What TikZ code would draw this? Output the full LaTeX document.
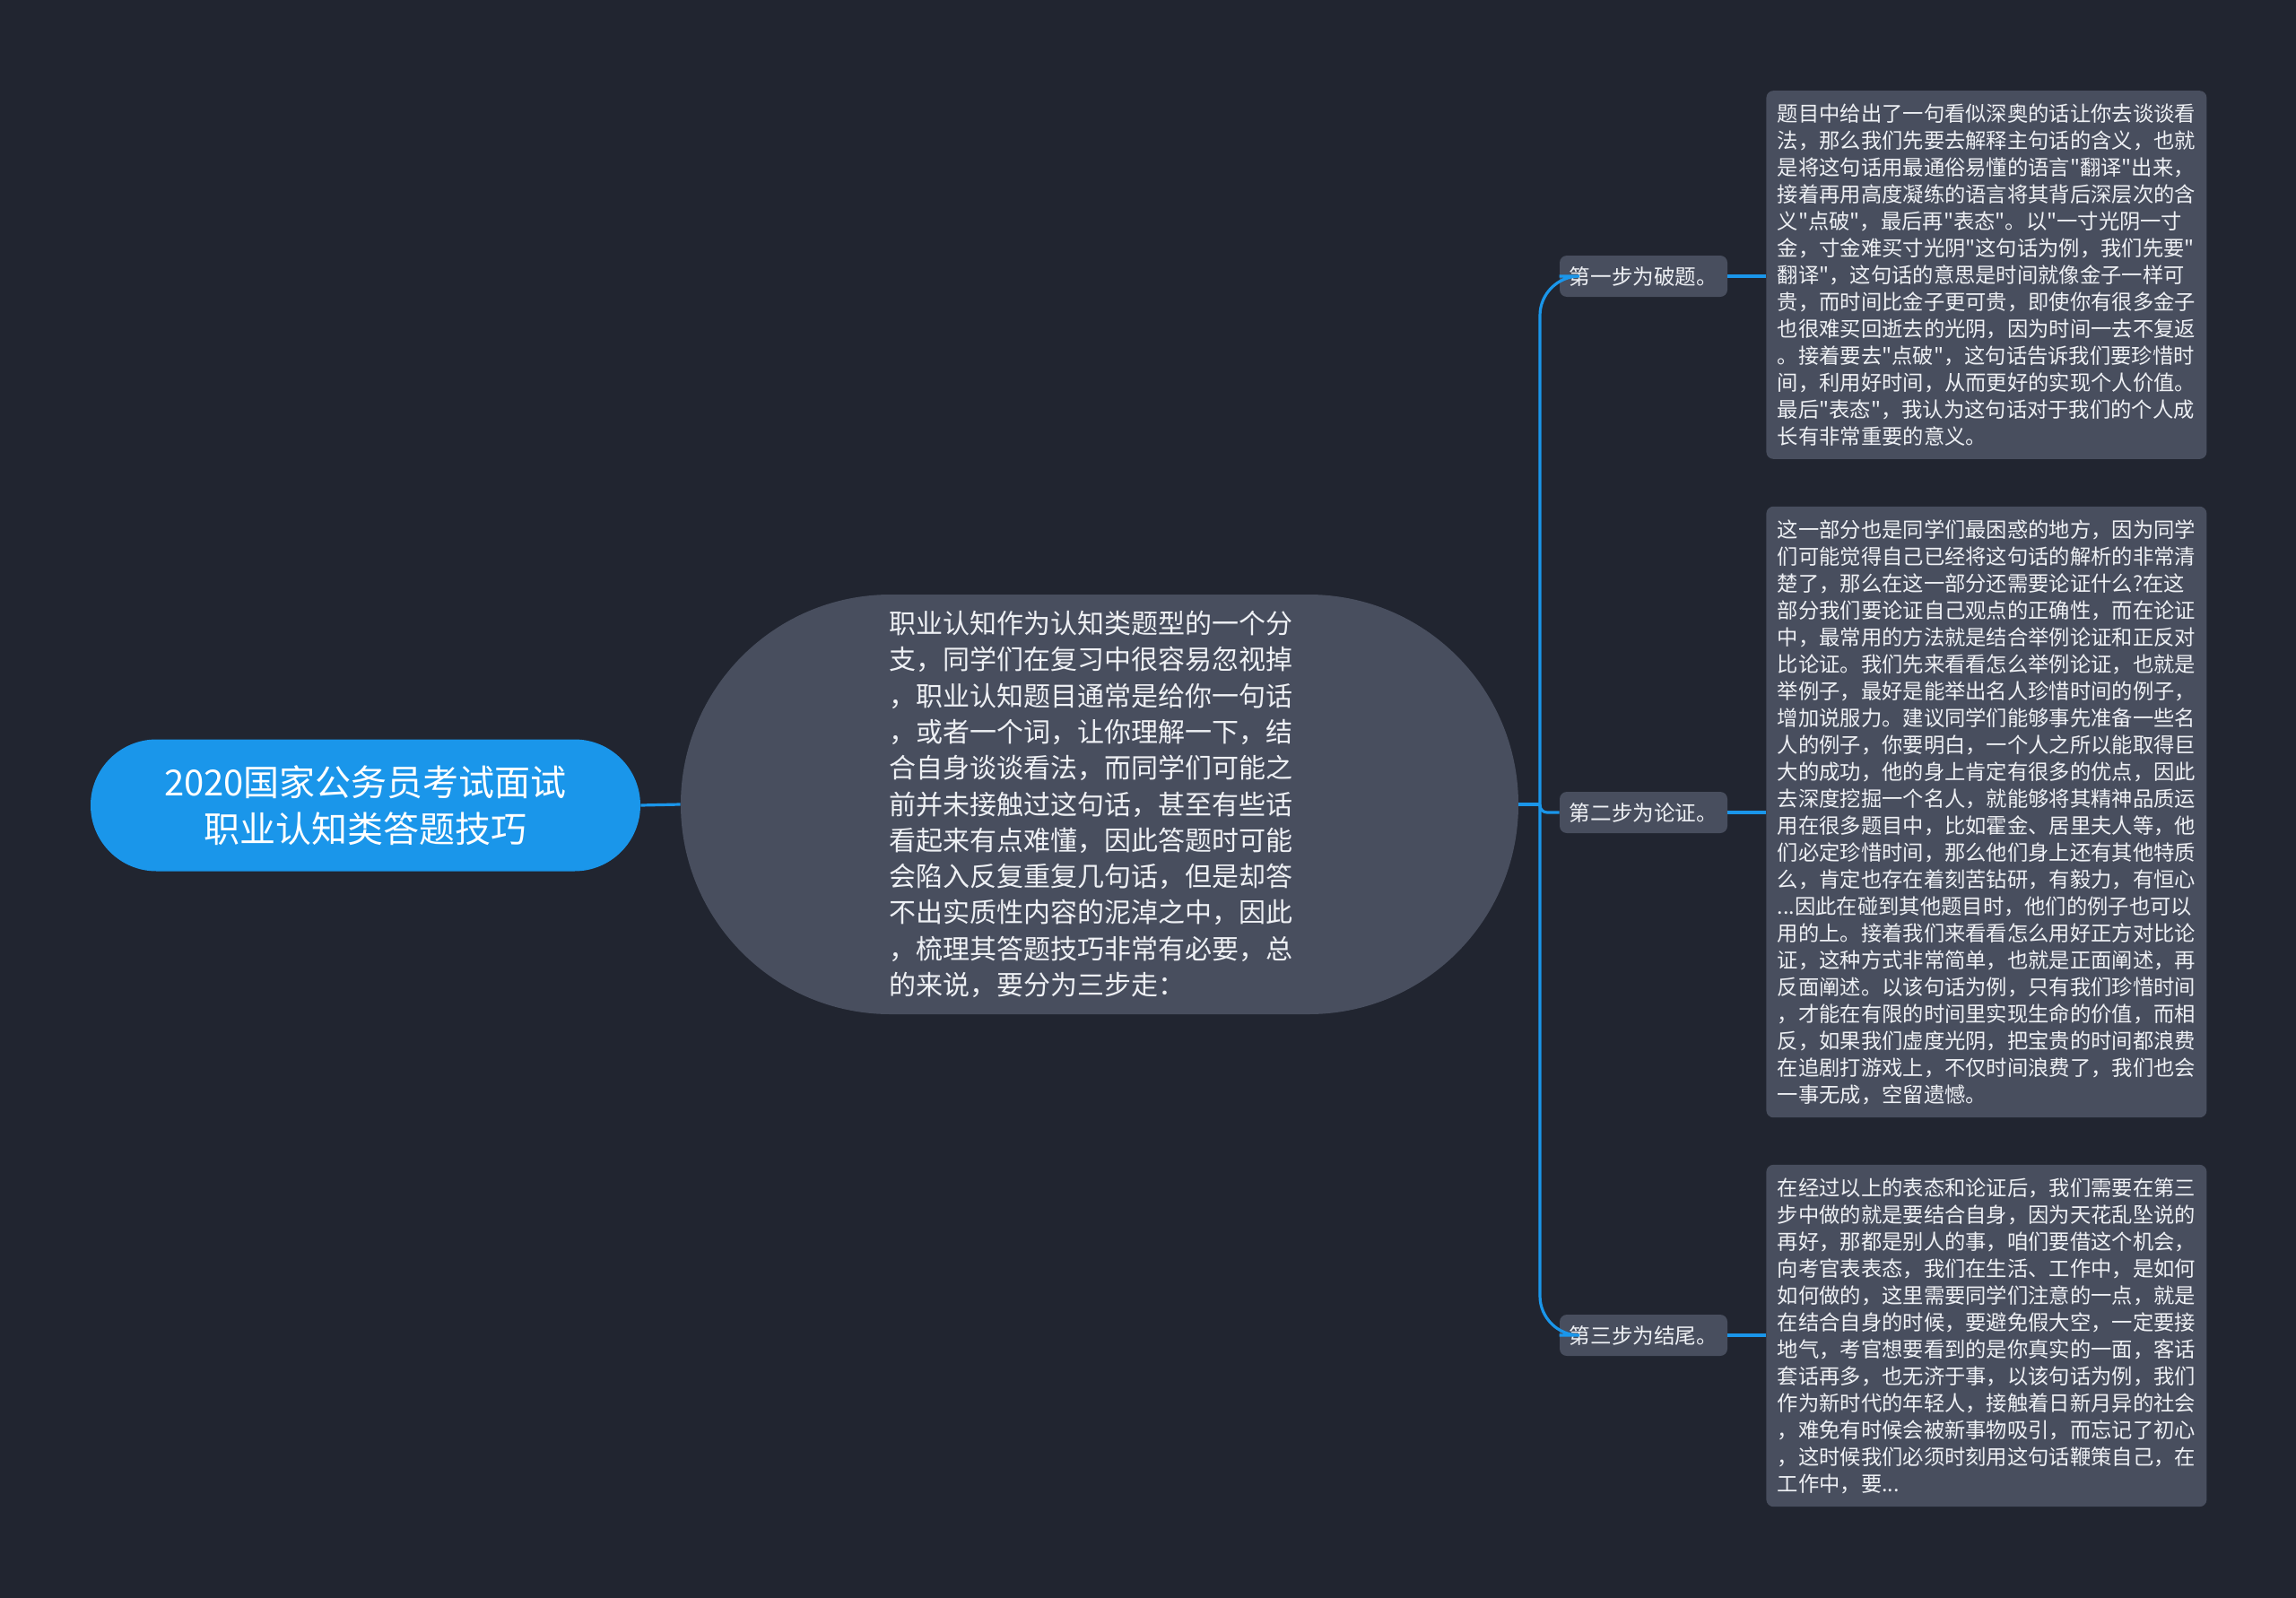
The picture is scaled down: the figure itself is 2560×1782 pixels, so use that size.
\documentclass[tikz,border=0pt]{standalone}
\usepackage{fontspec}
\newfontfamily\cjk{Noto Sans CJK SC}
\definecolor{bgdark}{RGB}{33,37,48}
\definecolor{nodegray}{RGB}{72,78,94}
\definecolor{linkblue}{RGB}{26,150,234}
\definecolor{textlight}{RGB}{238,240,244}
\tikzset{
  link/.style={draw=linkblue, line width=1.6pt},
  rootnode/.style={rectangle, rounded corners=36.75pt, fill=linkblue, text=white,
    font=\cjk\fontsize{20}{26}\selectfont, align=center,
    minimum width=306.5pt, minimum height=73.5pt},
  topic/.style={rectangle, rounded corners=117pt, fill=nodegray, text=textlight,
    font=\cjk\fontsize{15}{20.15}\selectfont, align=left, text width=235pt,
    minimum width=467pt, minimum height=234pt},
  stepnode/.style={rectangle, rounded corners=4pt, fill=nodegray, text=textlight,
    font=\cjk\fontsize{11.8}{14}\selectfont, minimum width=93.5pt, minimum height=23pt},
  detail/.style={rectangle, rounded corners=4pt, fill=nodegray, text=textlight, anchor=west,
    font=\cjk\fontsize{11.65}{15}\selectfont, align=left, text width=233pt,
    inner xsep=6.25pt, inner ysep=7.3pt},
}
\begin{document}
\begin{tikzpicture}[x=0.5pt, y=-0.5pt]
        \useasboundingbox (0,0) rectangle (2560,1782);
        \fill[bgdark] (0,0) rectangle (2560,1782);
        \node[rootnode] (root) at (407.5,898) {2020国家公务员考试面试\\职业认知类答题技巧};
        \node[topic] (topic) at (1226,897) {职业认知作为认知类题型的一个分\\支，同学们在复习中很容易忽视掉\\，职业认知题目通常是给你一句话\\，或者一个词，让你理解一下，结\\合自身谈谈看法，而同学们可能之\\前并未接触过这句话，甚至有些话\\看起来有点难懂，因此答题时可能\\会陷入反复重复几句话，但是却答\\不出实质性内容的泥淖之中，因此\\，梳理其答题技巧非常有必要，总\\的来说，要分为三步走：};
        \coordinate (hub) at (1717,897);
        \node[stepnode] (s1) at (1832.5,308) {第一步为破题。};
        \node[stepnode] (s2) at (1832.5,906) {第二步为论证。};
        \node[stepnode] (s3) at (1832.5,1489) {第三步为结尾。};
        \node[detail] (d1) at (1969,306.5) {题目中给出了一句看似深奥的话让你去谈谈看\\法，那么我们先要去解释主句话的含义，也就\\是将这句话用最通俗易懂的语言"翻译"出来，\\接着再用高度凝练的语言将其背后深层次的含\\义"点破"，最后再"表态"。以"一寸光阴一寸\\金，寸金难买寸光阴"这句话为例，我们先要"\\翻译"，这句话的意思是时间就像金子一样可\\贵，而时间比金子更可贵，即使你有很多金子\\也很难买回逝去的光阴，因为时间一去不复返\\。接着要去"点破"，这句话告诉我们要珍惜时\\间，利用好时间，从而更好的实现个人价值。\\最后"表态"，我认为这句话对于我们的个人成\\长有非常重要的意义。};
        \node[detail] (d2) at (1969,905.5) {这一部分也是同学们最困惑的地方，因为同学\\们可能觉得自己已经将这句话的解析的非常清\\楚了，那么在这一部分还需要论证什么?在这\\部分我们要论证自己观点的正确性，而在论证\\中，最常用的方法就是结合举例论证和正反对\\比论证。我们先来看看怎么举例论证，也就是\\举例子，最好是能举出名人珍惜时间的例子，\\增加说服力。建议同学们能够事先准备一些名\\人的例子，你要明白，一个人之所以能取得巨\\大的成功，他的身上肯定有很多的优点，因此\\去深度挖掘一个名人，就能够将其精神品质运\\用在很多题目中，比如霍金、居里夫人等，他\\们必定珍惜时间，那么他们身上还有其他特质\\么，肯定也存在着刻苦钻研，有毅力，有恒心\\...因此在碰到其他题目时，他们的例子也可以\\用的上。接着我们来看看怎么用好正方对比论\\证，这种方式非常简单，也就是正面阐述，再\\反面阐述。以该句话为例，只有我们珍惜时间\\，才能在有限的时间里实现生命的价值，而相\\反，如果我们虚度光阴，把宝贵的时间都浪费\\在追剧打游戏上，不仅时间浪费了，我们也会\\一事无成，空留遗憾。};
        \node[detail] (d3) at (1969,1489.5) {在经过以上的表态和论证后，我们需要在第三\\步中做的就是要结合自身，因为天花乱坠说的\\再好，那都是别人的事，咱们要借这个机会，\\向考官表表态，我们在生活、工作中，是如何\\如何做的，这里需要同学们注意的一点，就是\\在结合自身的时候，要避免假大空，一定要接\\地气，考官想要看到的是你真实的一面，客话\\套话再多，也无济于事，以该句话为例，我们\\作为新时代的年轻人，接触着日新月异的社会\\，难免有时候会被新事物吸引，而忘记了初心\\，这时候我们必须时刻用这句话鞭策自己，在\\工作中，要...};
        \draw[link] (root.east) -- (topic.west);
        \draw[link] (topic.east) -- (hub);
        \draw[link, rounded corners=22pt] (hub) |- (s1.west);
        \draw[link, rounded corners=4pt] (hub) |- (s2.west);
        \draw[link, rounded corners=22pt] (hub) |- (s3.west);
        \draw[link] (s1.east) -- (s1.east -| d1.west);
        \draw[link] (s2.east) -- (s2.east -| d2.west);
        \draw[link] (s3.east) -- (s3.east -| d3.west);
    \end{tikzpicture}
\end{document}
